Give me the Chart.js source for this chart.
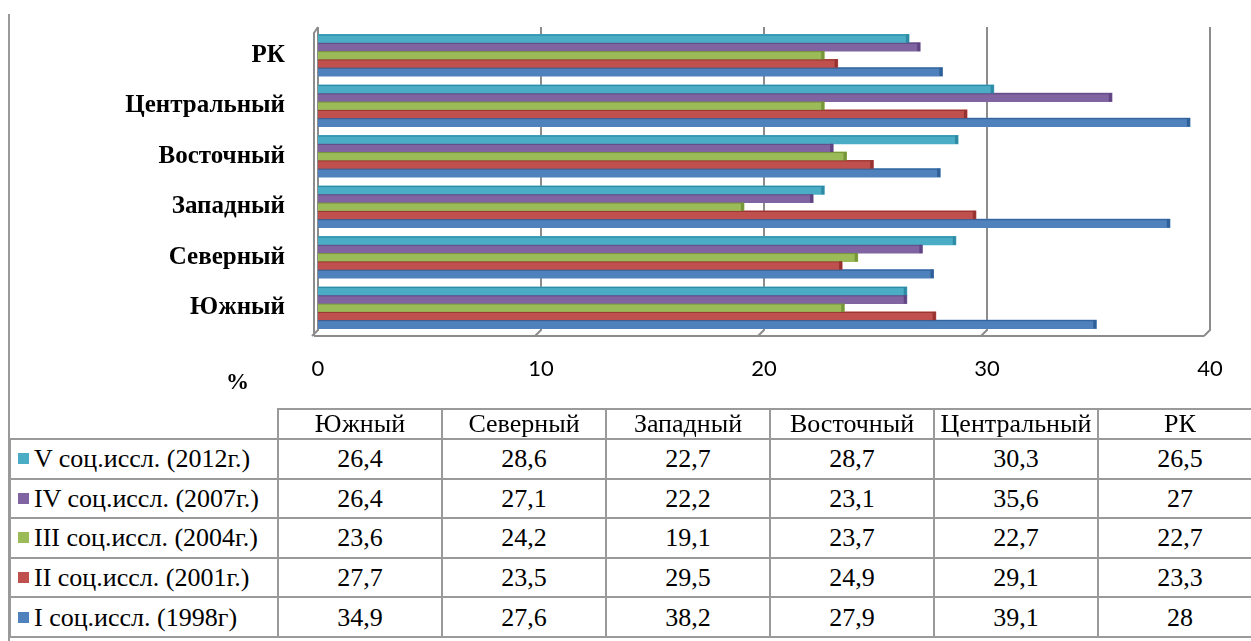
<!DOCTYPE html>
<html>
<head>
<meta charset="utf-8">
<script src="https://cdn.jsdelivr.net/npm/chart.js@4.4.0/dist/chart.umd.min.js"></script>
<style>
  html, body { margin: 0; padding: 0; background: #fff; overflow: hidden; }
  #page { position: relative; width: 1251px; height: 641px; overflow: hidden; }
  #frame { position: absolute; left: 8px; top: 14px; width: 2px; height: 627px; background: #9a9a9a; }
  #chart-box { position: absolute; left: 0; top: 0; width: 1251px; height: 400px; }
  #unit { position: absolute; left: 226px; top: 369px; font: bold 23px "Liberation Serif", serif; }
  #data-table { position: absolute; left: 9px; top: 408px; width: 1252px; border-collapse: collapse; table-layout: fixed;
    font: 26px "Liberation Serif", serif; color: #000; }
  #data-table td { border: 2px solid #9a9a9a; text-align: center; padding: 0; white-space: nowrap; overflow: hidden; }
  #data-table tr.head td { height: 28px; line-height: 28px; }
  #data-table tr.row td { height: 37.6px; line-height: 37px; }
  #data-table td.series { text-align: left; padding-left: 7px; }
  #data-table td.blank { border-top: none; border-left: none; }
  .swatch { display: inline-block; width: 11px; height: 11px; margin-right: 5px; vertical-align: 3px; }
</style>
</head>
<body>
<div id="page">
  <div id="chart-box"><canvas id="regionChart" width="1251" height="400"></canvas></div>
  <div id="unit">%</div>
  <table id="data-table"></table>
  <div id="frame"></div>
</div>
<script>
// regions in table order (bottom to top on the chart)
const regions = ['Южный', 'Северный', 'Западный', 'Восточный', 'Центральный', 'РК'];
const seriesNames = ['V соц.иссл. (2012г.)', 'IV соц.иссл. (2007г.)', 'III соц.иссл. (2004г.)', 'II соц.иссл. (2001г.)', 'I соц.иссл. (1998г)'];
const survey2012 = [26.4, 28.6, 22.7, 28.7, 30.3, 26.5];
const survey2007 = [26.4, 27.1, 22.2, 23.1, 35.6, 27];
const survey2004 = [23.6, 24.2, 19.1, 23.7, 22.7, 22.7];
const survey2001 = [27.7, 23.5, 29.5, 24.9, 29.1, 23.3];
const survey1998 = [34.9, 27.6, 38.2, 27.9, 39.1, 28];
const xTicks = [0, 10, 20, 30, 40];

const seriesValues = [survey2012, survey2007, survey2004, survey2001, survey1998];
const seriesColors = ['#4BACC6', '#8064A2', '#9BBB59', '#C0504D', '#4F81BD'];
const seriesEdges = ['#2f8aa3', '#5f4682', '#76963a', '#963330', '#2f5f97'];

const fmt = v => String(v).replace('.', ',');

// --- data table under the chart ---
function buildTable() {
    const table = document.getElementById('data-table');
    let html = '<colgroup><col style="width:268px">';
    regions.forEach(() => { html += '<col style="width:164px">'; });
    html += '</colgroup><tr class="head"><td class="blank"></td>';
    regions.forEach(r => { html += `<td>${r}</td>`; });
    html += '</tr>';
    seriesNames.forEach((name, i) => {
        html += `<tr class="row"><td class="series"><span class="swatch" style="background:${seriesColors[i]}"></span>${name}</td>`;
        seriesValues[i].forEach(v => { html += `<td>${fmt(v)}</td>`; });
        html += '</tr>';
    });
    table.innerHTML = html;
}
buildTable();

// walls and floor in the old office 3D style
const wallPlugin = {
    id: 'wall3d',
    beforeDatasetsDraw(chart) {
        const { ctx, chartArea, scales } = chart;
        const top = chartArea.top, bottom = chartArea.bottom;
        ctx.save();
        ctx.strokeStyle = '#8c8c8c';
        ctx.lineWidth = 2;
        ctx.beginPath();
        xTicks.forEach(v => {
            const px = scales.x.getPixelForValue(v);
            ctx.moveTo(px, top - 3);
            ctx.lineTo(px, bottom - 3);
            ctx.lineTo(px - 6, bottom + 3);
        });
        const x0 = scales.x.getPixelForValue(0);
        const xMax = scales.x.getPixelForValue(40);
        ctx.moveTo(x0 - 4, bottom + 3);
        ctx.lineTo(xMax - 6, bottom + 3);
        ctx.moveTo(x0 - 4, bottom + 3);
        ctx.lineTo(x0 - 4, top + 3);
        ctx.lineTo(x0, top - 3);
        ctx.stroke();
        ctx.restore();
    },
    afterDatasetsDraw(chart) {
        const { ctx } = chart;
        ctx.save();
        chart.data.datasets.forEach((ds, di) => {
            chart.getDatasetMeta(di).data.forEach(bar => {
                const h = bar.height;
                const y0 = bar.y - h / 2;
                // darker end cap and top edge
                ctx.fillStyle = seriesEdges[di];
                ctx.fillRect(bar.x - 3, y0, 3, h);
                ctx.fillRect(bar.base, y0, bar.x - bar.base, 1);
            });
        });
        ctx.restore();
    }
};

const ctx = document.getElementById('regionChart').getContext('2d');
new Chart(ctx, {
    type: 'bar',
    data: {
        labels: regions,
        datasets: seriesNames.map((name, i) => ({
            label: name,
            data: seriesValues[i],
            backgroundColor: seriesColors[i],
            borderWidth: 0,
            inflateAmount: 0.5,
            categoryPercentage: 0.82,
            barPercentage: 1.0
        }))
    },
    options: {
        indexAxis: 'y',
        responsive: false,
        animation: false,
        layout: { padding: { top: 30, right: 41, left: 0, bottom: 0 } },
        plugins: { legend: { display: false }, tooltip: { enabled: false } },
        scales: {
            x: {
                min: 0,
                max: 40,
                afterFit: s => { s.height = 67; },
                afterBuildTicks: s => { s.ticks = xTicks.map(v => ({ value: v })); },
                grid: { display: false },
                border: { display: false },
                ticks: { color: '#000', padding: 15, font: { family: 'Lato', size: 22 } }
            },
            y: {
                reverse: true,
                afterFit: s => { s.width = 318; s.paddingTop = 0; s.paddingBottom = 0; },
                grid: { display: false },
                border: { display: false },
                ticks: { color: '#000', padding: 25, font: { family: 'Liberation Serif', size: 25, weight: 'bold' } }
            }
        }
    },
    plugins: [wallPlugin]
});
</script>
</body>
</html>
